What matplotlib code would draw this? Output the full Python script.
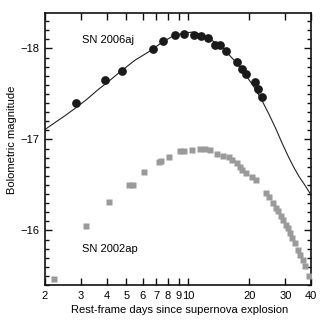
import matplotlib
matplotlib.use("Agg")
import matplotlib.pyplot as plt
from matplotlib.ticker import FixedLocator, FixedFormatter, MultipleLocator, NullLocator

plt.rcParams['font.family'] = ['Liberation Sans', 'DejaVu Sans']

# SN 2006aj bolometric light curve (black circles)
days_06aj = [2.84, 3.94, 4.74, 6.72, 7.58, 8.64, 9.6, 10.7, 11.54, 12.49,
             13.56, 14.34, 15.4, 17.3, 18.3, 19.2, 21.3, 22.1, 23.1]
mag_06aj = [-17.40, -17.65, -17.75, -17.99, -18.08, -18.15, -18.16, -18.15, -18.14, -18.11,
            -18.04, -18.04, -17.97, -17.85, -17.77, -17.72, -17.63, -17.56, -17.47]

# model curve for SN 2006aj
days_model = [2.0, 2.5, 2.8, 3.2, 3.6, 4.0, 4.7, 5.5, 6.5, 7.5, 8.5, 9.5, 10.5, 11.5,
              12.5, 13.5, 15, 17, 19, 21, 23, 25, 27, 29, 31, 33, 35, 37, 40]
mag_model = [-17.11, -17.26, -17.34, -17.44, -17.54, -17.62, -17.75, -17.87, -17.97,
             -18.07, -18.14, -18.17, -18.18, -18.16, -18.12, -18.07, -17.99, -17.86,
             -17.72, -17.58, -17.43, -17.27, -17.11, -16.95, -16.81, -16.69, -16.59,
             -16.51, -16.39]

# SN 2002ap bolometric light curve (grey squares)
days_02ap = [2.22, 3.16, 4.13, 5.17, 5.4, 6.12, 7.22, 7.36, 8.11, 9.14, 9.6, 10.5,
             11.4, 12.1, 12.8, 13.8, 14.9, 15.8, 16.4, 17.3, 17.9, 18.3, 19.3, 20.5,
             21.5, 24.2, 24.9, 26.1, 26.9, 27.6, 28.5, 29.3, 30.2, 30.9, 31.6, 32.3,
             33.4, 34.6, 35.3, 36.4, 37.3, 39.2]
mag_02ap = [-15.47, -16.05, -16.31, -16.50, -16.50, -16.64, -16.75, -16.76, -16.81,
            -16.87, -16.87, -16.88, -16.90, -16.89, -16.88, -16.84, -16.82, -16.81,
            -16.77, -16.74, -16.70, -16.66, -16.63, -16.59, -16.55, -16.41, -16.37,
            -16.30, -16.25, -16.21, -16.16, -16.12, -16.06, -16.03, -15.97, -15.92,
            -15.86, -15.79, -15.73, -15.68, -15.61, -15.50]

xticks = [2, 3, 4, 5, 6, 7, 8, 9, 10, 20, 30, 40]
xticklabels = ['2', '3', '4', '5', '6', '7', '8', '9', '10', '20', '30', '40']

fig = plt.figure(figsize=(3.23, 3.22), dpi=100)
ax = fig.add_axes([0.1393, 0.1149, 0.8237, 0.8447])

ax.plot(days_model, mag_model, color='#222222', lw=0.8, zorder=2)
ax.plot(days_02ap, mag_02ap, 's', color='#9a9a9a', ms=5, mec='none', zorder=3)
ax.plot(days_06aj, mag_06aj, 'o', color='#1a1a1a', ms=6.3, mec='none', zorder=4)

ax.set_xscale('log')
ax.set_xlim(2, 40)
ax.set_ylim(-15.4, -18.39)

ax.xaxis.set_major_locator(FixedLocator(xticks))
ax.xaxis.set_major_formatter(FixedFormatter(xticklabels))
ax.xaxis.set_minor_locator(NullLocator())
ax.yaxis.set_major_locator(MultipleLocator(1))
ax.yaxis.set_minor_locator(MultipleLocator(0.1))

ax.tick_params(which='both', direction='in', top=True, right=True,
               labelsize=8, width=1.0, color='#111111')
ax.tick_params(which='major', length=5, pad=4)
ax.tick_params(which='minor', length=3)
for s in ax.spines.values():
    s.set_linewidth(1.2)
    s.set_color('#111111')

ax.text(3.03, -18.09, 'SN 2006aj', fontsize=8, va='center', ha='left')
ax.text(3.03, -15.80, 'SN 2002ap', fontsize=8, va='center', ha='left')

ax.set_xlabel('Rest-frame days since supernova explosion', fontsize=8)
ax.set_ylabel('Bolometric magnitude', fontsize=8)
ax.xaxis.set_label_coords(0.506, -0.075)
ax.yaxis.set_label_coords(-0.107, 0.533)

fig.savefig('out.png', dpi=100)
